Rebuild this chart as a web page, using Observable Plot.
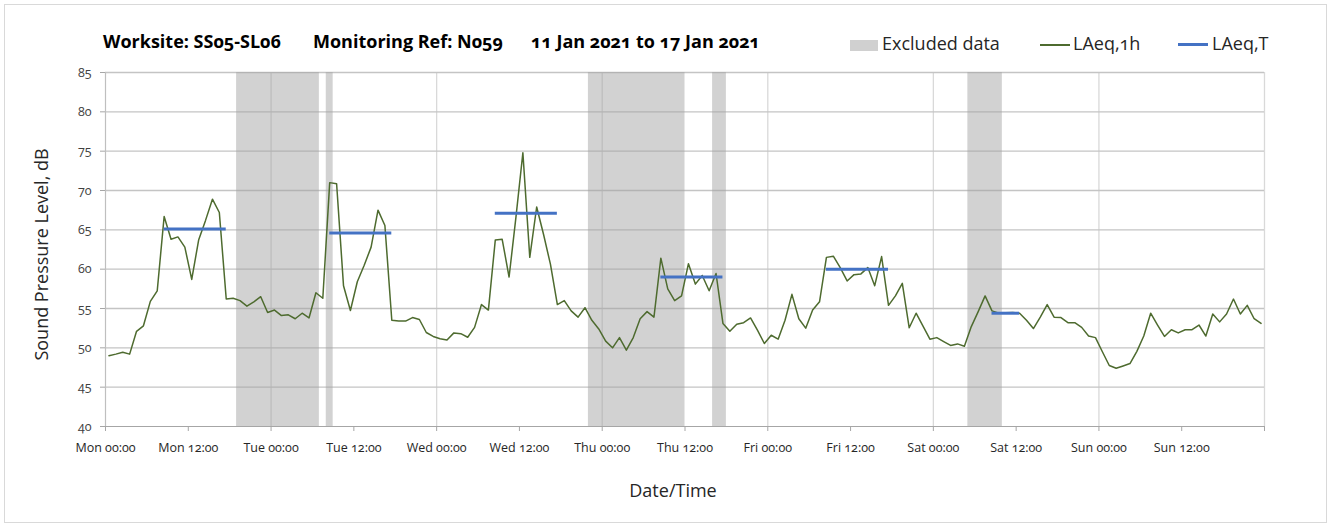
<!DOCTYPE html>
<html>
<head>
<meta charset="utf-8">
<script src="https://cdn.jsdelivr.net/npm/d3@7"></script>
<script src="https://cdn.jsdelivr.net/npm/@observablehq/plot@0.6"></script>
<style>
  body { margin: 0; background: #fff; }
  #wrap { position: relative; width: 1336px; height: 527px; font-family: "Open Sans", Lato, sans-serif; font-variant-numeric: oldstyle-nums; }
  #frame { position: absolute; left: 4px; top: 4px; width: 1321px; height: 517px; border: 1px solid #d9d9d9; pointer-events: none; }
  #header { position: relative; height: 60px; }
  .t { position: absolute; top: 29px; font-size: 18px; font-weight: bold; color: #000; white-space: nowrap; line-height: 24px; }
  .lg { position: absolute; top: 31px; font-size: 18px; color: #262626; white-space: nowrap; line-height: 24px; }
  .sw { position: absolute; }
  svg text { font-variant-numeric: oldstyle-nums; }
</style>
</head>
<body>
<div id="wrap">
  <div id="header">
    <span class="t" style="left:103px">Worksite: SS05-SL06</span>
    <span class="t" style="left:313px">Monitoring Ref: N059</span>
    <span class="t" style="left:531px">11 Jan 2021 to 17 Jan 2021</span>
    <div class="sw" style="left:850px; top:40px; width:28px; height:11px; background:#d0d0d0"></div>
    <span class="lg" style="left:882px">Excluded data</span>
    <div class="sw" style="left:1040px; top:44px; width:30px; height:1.5px; background:#4e6b2f"></div>
    <span class="lg" style="left:1073px">LAeq,1h</span>
    <div class="sw" style="left:1178px; top:43px; width:30px; height:3px; background:#4472c4"></div>
    <span class="lg" style="left:1212px">LAeq,T</span>
  </div>
  <div id="chart"></div>
  <div id="frame"></div>
</div>
<script>
// Hourly LAeq,1h values, Mon 00:00 .. Sun 23:00 (one per hour)
const laeq1h = [
  49.0, 49.2, 49.45, 49.2, 52.1, 52.8, 55.9, 57.25, 66.7, 63.8,
  64.1, 62.8, 58.7, 63.7, 66.2, 68.9, 67.2, 56.2, 56.3, 56.0,
  55.3, 55.85, 56.5, 54.5, 54.8, 54.1, 54.2, 53.7, 54.4, 53.8,
  57.0, 56.3, 71.0, 70.85, 57.9, 54.75, 58.4, 60.5, 62.8, 67.5,
  65.55, 53.5, 53.4, 53.4, 53.85, 53.6, 51.95, 51.45, 51.15, 51.0,
  51.9, 51.8, 51.35, 52.6, 55.5, 54.8, 63.7, 63.8, 59.0, 66.65,
  74.8, 61.5, 67.9, 64.4, 60.6, 55.5, 56.0, 54.7, 53.9, 55.1,
  53.5, 52.4, 50.85, 50.0, 51.3, 49.7, 51.3, 53.7, 54.6, 53.9,
  61.4, 57.5, 56.0, 56.6, 60.7, 58.1, 59.2, 57.25, 59.45, 53.1,
  52.1, 53.0, 53.2, 53.8, 52.25, 50.55, 51.6, 51.1, 53.5, 56.8,
  53.7, 52.5, 54.8, 55.85, 61.5, 61.65, 60.2, 58.5, 59.3, 59.4,
  60.2, 57.9, 61.6, 55.4, 56.6, 58.2, 52.55, 54.4, 52.75, 51.1,
  51.3, 50.8, 50.3, 50.5, 50.2, 52.7, 54.6, 56.6, 54.7, 54.4,
  54.45, 54.5, 54.4, 53.5, 52.45, 53.9, 55.5, 53.9, 53.85, 53.2,
  53.2, 52.6, 51.5, 51.3, 49.5, 47.75, 47.4, 47.7, 48.0, 49.55,
  51.5, 54.4, 52.9, 51.45, 52.3, 51.9, 52.3, 52.3, 52.9, 51.5,
  54.3, 53.3, 54.3, 56.2, 54.3, 55.4, 53.7, 53.1
];

// LAeq,T assessment periods (first and last hour index, level)
const periodStartHour = [8, 32, 56, 80, 104, 128];
const periodEndHour   = [17, 41, 65, 89, 113, 132];
const periodLevel     = [65.1, 64.6, 67.1, 59.0, 60.0, 54.4];

// Excluded data windows (hours from Mon 00:00)
const excludedStart = [19, 32, 70, 88, 125];
const excludedEnd   = [31, 33, 84, 90, 130];

// Axis ticks
const xTickHours  = [0, 12, 24, 36, 48, 60, 72, 84, 96, 108, 120, 132, 144, 156, 168];
const xTickLabels = ["Mon 00:00", "Mon 12:00", "Tue 00:00", "Tue 12:00", "Wed 00:00", "Wed 12:00",
                     "Thu 00:00", "Thu 12:00", "Fri 00:00", "Fri 12:00", "Sat 00:00", "Sat 12:00",
                     "Sun 00:00", "Sun 12:00", ""];
const dayGridHours = [24, 48, 72, 96, 120, 144, 168];
const yTicks = [40, 45, 50, 55, 60, 65, 70, 75, 80, 85];

// Build tables
const hourly = laeq1h.map((v, i) => ({ t: i + 0.5, v }));
const periods = periodLevel.map((v, i) => ({ a: periodStartHour[i] + 0.5, b: periodEndHour[i] + 0.5, v }));
const excluded = excludedStart.map((s, i) => ({ s, e: excludedEnd[i] }));

const chart = Plot.plot({
  width: 1336,
  height: 467,
  marginLeft: 105,
  marginRight: 72,
  marginTop: 12,
  marginBottom: 101,
  style: { fontFamily: "'Open Sans', Lato, sans-serif", fontSize: "12.5px", background: "transparent", overflow: "visible" },
  x: { domain: [0, 168] },
  y: { domain: [40, 85] },
  marks: [
    Plot.ruleX(dayGridHours, { stroke: "#d9d9d9", strokeWidth: 1.3 }),
    Plot.ruleY(yTicks.filter(d => d > 40), { stroke: "#c4c4c4", strokeWidth: 1.3 }),
    Plot.rect(excluded, { x1: "s", x2: "e", fill: "#a0a0a0", fillOpacity: 0.48 }),
    Plot.ruleY([40], { stroke: "#a6a6a6", strokeWidth: 1.2 }),
    Plot.ruleX([0], { stroke: "#bfbfbf", strokeWidth: 1.2 }),
    Plot.line(hourly, { x: "t", y: "v", stroke: "#4e6b2f", strokeWidth: 1.5 }),
    Plot.ruleY(periods, { x1: "a", x2: "b", y: "v", stroke: "#4472c4", strokeWidth: 3 }),
    Plot.axisY({ ticks: yTicks, tickSize: 5, tickPadding: 9, label: null, stroke: "#a6a6a6", fill: "#404040", fontSize: 12.5 }),
    Plot.axisX({ ticks: xTickHours, tickFormat: d => xTickLabels[xTickHours.indexOf(d)], tickSize: 5, tickPadding: 12, label: null, stroke: "#a6a6a6", fill: "#262626", fontSize: 12.5 }),
    Plot.text(["Sound Pressure Level, dB"], { frameAnchor: "left", rotate: -90, dx: -63, dy: 5, textAnchor: "middle", lineAnchor: "middle", fontSize: 18, fill: "#262626" }),
    Plot.text(["Date/Time"], { frameAnchor: "bottom", dy: 65, dx: -12, textAnchor: "middle", lineAnchor: "middle", fontSize: 18, fill: "#262626" })
  ]
});
document.getElementById("chart").appendChild(chart);
</script>
</body>
</html>
